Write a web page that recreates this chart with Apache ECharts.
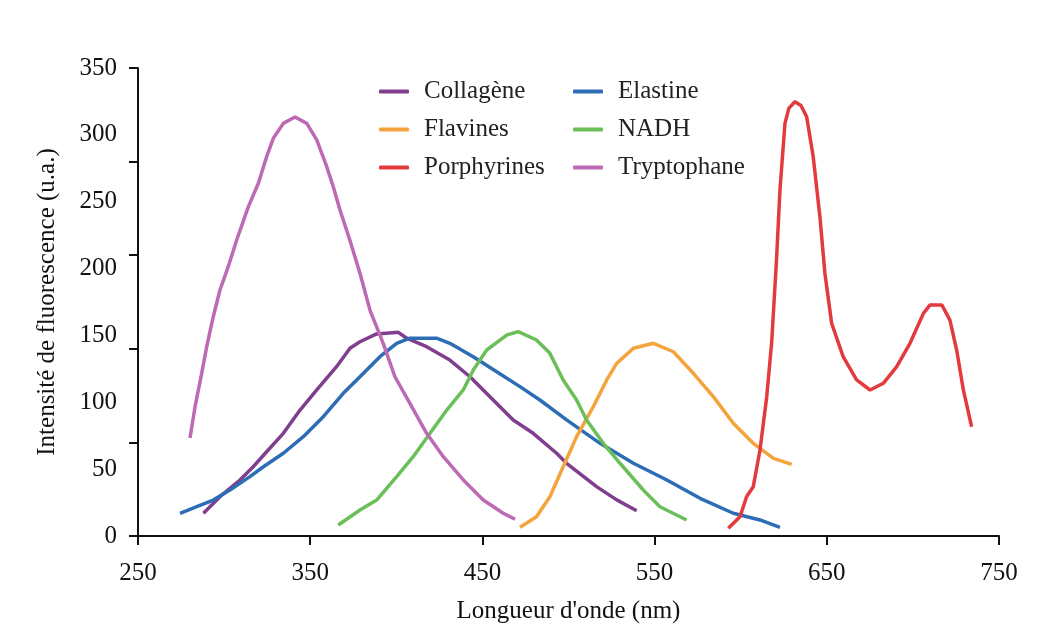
<!DOCTYPE html>
<html>
<head>
<meta charset="utf-8">
<script src="https://cdn.jsdelivr.net/npm/echarts@6/dist/echarts.min.js"></script>
<style>
html,body{margin:0;padding:0;background:#ffffff;}
#chart{width:1060px;height:641px;}
</style>
</head>
<body>
<div id="chart"></div>
<script>
// Tick labels
const xTicks = [250, 350, 450, 550, 650, 750];
const yLabels = [0, 50, 100, 150, 200, 250, 300, 350];

// Series: [wavelength nm, intensity u.a.]
const collagene = [[288,17],[297.6,29.4],[309.2,41.9],[316.9,51.8],[324.7,63],[334.4,76.8],[344.1,94.2],[353.8,109.2],[365.3,126.6],[373.1,140.4],[378.9,145.3],[388.6,151.1],[401.2,152.3],[406,147.9],[417.6,141.6],[431.1,131.6],[442.8,119.1],[454.4,104.2],[467.9,86.8],[479.5,76.8],[493.1,61.9],[498.9,54.4],[516.3,36.9],[528,27],[539.6,18.9]];
const elastine = [[274.4,17],[284.1,21.9],[293.7,26.9],[303.4,34.4],[315,44.4],[322.8,51.8],[334.4,61.9],[346,74.3],[357.6,89.2],[369.2,106.7],[378.9,119.1],[390.5,134.1],[400.2,144.1],[407.9,147.9],[423.4,147.9],[431.1,144.1],[444.7,134.1],[458.3,122.9],[471.8,111.7],[483.4,101.7],[498.9,86.8],[518.3,69.3],[537.7,54.4],[557.1,41.9],[576.4,28.2],[595.7,17],[611.2,12],[622.8,6.5]];
const flavines = [[471.8,6.5],[481.4,14.4],[489.2,29.4],[496.9,51.8],[504.7,74.3],[514.4,96.7],[522.2,116.7],[528,129.1],[537.7,140.4],[549.3,144.1],[560.9,137.8],[572.5,121.7],[584.1,104.2],[595.7,84.3],[607.3,69.3],[619,58.1],[629.6,53.6]];
const nadh = [[366.3,8.2],[378.9,19.4],[388.6,26.9],[400.2,44.4],[409.8,59.3],[419.6,76.8],[429.3,94.2],[438.9,109.2],[444.7,124.2],[452.5,139.1],[464.1,150.3],[470.8,152.8],[481.4,146.6],[489.2,136.6],[496.9,116.7],[504.7,101.7],[510.5,86.8],[520.2,69.3],[529.9,54.4],[543.4,34.4],[553.1,21.9],[568.6,12]];
const porphyrines = [[592.8,5.8],[599.6,14.4],[603.4,29.4],[607.3,36.9],[611.2,64.3],[615.1,104],[618,145],[620.9,208.9],[622.8,258.8],[625.7,308.6],[628,320],[631.5,324.8],[635,322],[638.3,313.6],[642.1,283.7],[646,238.8],[648.9,196.5],[652.8,159.1],[659.5,134.1],[667.3,116.7],[675.1,109.2],[682.8,114.2],[690.6,126.6],[698.3,144.1],[706.1,166.5],[710,172.8],[716.8,172.8],[721.5,161.5],[725.4,139.1],[729.3,109.2],[734.1,81.7]];
const tryptophane = [[280.2,73.3],[283.1,96.5],[287,121.7],[289.9,141.6],[293.7,164],[297.6,184],[302.4,201.4],[307.3,221.4],[314.1,246.3],[319.9,263.8],[324.7,283.7],[328.6,297.4],[334.4,308.6],[341.2,313.4],[348,308.6],[353.8,296.2],[359.6,276.2],[363.4,261.2],[367.3,243.8],[373,221.4],[378.9,196.5],[384.7,169],[392.4,144.1],[399.2,119.1],[407.9,99.2],[417.6,76.8],[427.3,59.3],[438.9,41.9],[450.5,26.9],[462.1,17],[469,12.5]];

const names = ['Collagène','Elastine','Flavines','NADH','Porphyrines','Tryptophane'];
const colors = ['#7F3F8E','#2C6DB5','#F4A43C','#6BBF59','#E33A3D','#BD69B3'];
const datas = [collagene, elastine, flavines, nadh, porphyrines, tryptophane];

const FONT = "'Liberation Serif', 'DejaVu Serif', serif";
const FS = 25;
const chart = echarts.init(document.getElementById('chart'));

const legendCommon = {
  orient: 'vertical',
  top: 74,
  itemGap: 13,
  itemWidth: 30,
  itemHeight: 4,
  icon: 'roundRect',
  textStyle: {fontFamily: FONT, fontSize: FS, color: '#222', padding: [0,0,0,10]}
};

chart.setOption({
  backgroundColor: '#ffffff',
  animation: false,
  color: colors,
  grid: {left: 138, right: 61, top: 68, bottom: 105},
  legend: [
    Object.assign({left: 374, data: ['Collagène','Flavines','Porphyrines']}, legendCommon),
    Object.assign({left: 568, data: ['Elastine','NADH','Tryptophane']}, legendCommon)
  ],
  xAxis: {
    type: 'value', min: xTicks[0], max: xTicks[xTicks.length-1], interval: 100,
    name: "Longueur d'onde (nm)", nameLocation: 'middle', nameGap: 63,
    nameTextStyle: {fontFamily: FONT, fontSize: FS, color: '#111'},
    axisLine: {lineStyle: {color: '#111', width: 2}},
    axisTick: {show: true, length: 9, lineStyle: {color: '#111', width: 2}},
    axisLabel: {fontFamily: FONT, fontSize: FS, color: '#111', margin: 25},
    splitLine: {show: false}
  },
  yAxis: [
    {
      type: 'value', min: 0, max: 350, interval: 50, position: 'left', offset: 0,
      name: 'Intensité de fluorescence (u.a.)', nameLocation: 'middle', nameGap: 78,
      nameTextStyle: {fontFamily: FONT, fontSize: FS, color: '#111'},
      axisLine: {show: true, lineStyle: {color: '#111', width: 2}},
      axisTick: {show: false},
      axisLabel: {fontFamily: FONT, fontSize: FS, color: '#111', margin: 21,
        formatter: v => yLabels.indexOf(v) >= 0 ? String(v) : ''},
      splitLine: {show: false}
    },
    {
      type: 'value', min: 0, max: 350, interval: 70, position: 'left', offset: 0,
      axisLine: {show: false},
      axisTick: {show: true, length: 9, lineStyle: {color: '#111', width: 2}},
      axisLabel: {show: false},
      splitLine: {show: false}
    }
  ],
  series: names.map((n, i) => ({
    name: n, type: 'line', data: datas[i], yAxisIndex: 0,
    showSymbol: false, symbol: 'none', smooth: false,
    lineStyle: {width: 3.5, color: colors[i]},
    itemStyle: {color: colors[i]}
  }))
});
</script>
</body>
</html>
